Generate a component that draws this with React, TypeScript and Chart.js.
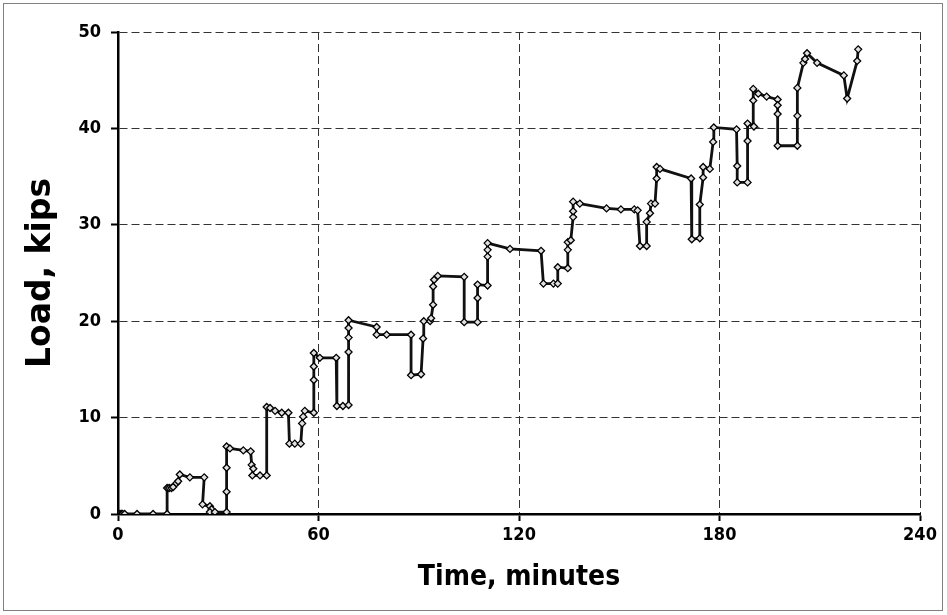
import React, { useEffect, useRef } from "react";
import { Chart, registerables } from "chart.js";

Chart.register(...registerables);

const timeMinutes = [
  0.2, 0.6, 1.0, 1.4, 2.0, 5.7, 10.5, 14.7,
  14.7, 15.3, 16.0, 16.5, 17.5, 18.0, 18.5,
  21.5, 25.8,
  25.3, 27.5, 28.0, 27.5, 29.0, 32.5,
  32.5, 32.5, 32.5,
  33.5, 37.5, 39.7, 40.0, 40.5, 40.2, 42.5, 44.5,
  44.5, 45.5, 47.0, 49.0, 51.0,
  51.3, 52.9, 54.7,
  55.1, 55.4, 55.9, 58.6,
  58.6, 58.6, 58.6,
  60.4, 65.3,
  65.5, 67.3, 69.0,
  69.0, 69.0, 69.0, 69.0,
  77.4, 77.4, 80.4, 87.7,
  87.7, 90.7,
  91.3, 91.5, 93.4, 93.7, 94.3, 94.3, 94.6, 95.7,
  103.6, 103.6, 107.6, 107.6, 107.6, 110.6,
  110.6, 110.6, 110.6, 117.3, 126.6,
  127.3, 130.3, 131.6, 131.6, 134.6,
  134.6, 134.6, 135.5, 136.2, 136.2, 136.2, 138.2,
  146.2, 150.5, 154.5, 155.5,
  156.2, 158.2, 158.2, 159.2, 159.5, 160.7,
  161.2, 161.2, 162.2, 171.5,
  171.7, 174.1, 174.1, 175.1, 175.1, 177.1, 178.1, 178.3,
  185.1, 185.3, 185.3, 188.4, 188.4, 188.4, 190.3,
  190.1, 190.1, 191.6, 194.1, 197.4,
  197.4, 197.4, 197.4, 203.3, 203.3, 203.3,
  205.1, 205.6, 206.2, 209.2, 217.2, 218.2, 221.2, 221.5,
];

const loadKips = [
  0, 0, 0, 0, 0, 0, 0, 0,
  2.7, 2.7, 2.7, 2.8, 3.2, 3.4, 4.1,
  3.8, 3.8,
  1.0, 0.8, 0.5, 0.2, 0.2, 0.2,
  2.3, 4.8, 7.0,
  6.8, 6.6, 6.5, 5.1, 4.7, 4.0, 4.0, 4.0,
  11.1, 11.0, 10.7, 10.5, 10.5,
  7.3, 7.3, 7.3,
  9.4, 10.1, 10.7, 10.5,
  13.9, 15.3, 16.7,
  16.2, 16.2,
  11.2, 11.2, 11.3,
  16.8, 18.3, 19.3, 20.1,
  19.4, 18.6, 18.6, 18.6,
  14.4, 14.5,
  18.2, 20.0, 20.0, 20.3, 21.7, 23.6, 24.3, 24.7,
  24.6, 19.9, 19.9, 22.4, 23.8, 23.7,
  26.7, 27.4, 28.1, 27.5, 27.3,
  23.9, 23.9, 23.9, 25.6, 25.5,
  27.4, 28.2, 28.4, 30.8, 31.4, 32.4, 32.2,
  31.7, 31.6, 31.6, 31.5,
  27.8, 27.8, 30.3, 31.2, 32.2, 32.2,
  34.8, 36.0, 35.8, 34.8,
  28.5, 28.6, 32.1, 34.9, 36.0, 35.8, 38.6, 40.1,
  39.9, 36.1, 34.4, 34.4, 38.7, 40.5, 40.2,
  42.9, 44.1, 43.6, 43.3, 43.0,
  42.4, 41.5, 38.2, 38.2, 41.3, 44.2,
  46.8, 47.2, 47.8, 46.8, 45.5, 43.1, 47.0, 48.2,
];

const xTicks = [0, 60, 120, 180, 240];
const yTicks = [0, 10, 20, 30, 40, 50];
const xTitle = "Time, minutes";
const yTitle = "Load, kips";

const FONT = "'DejaVu Sans', Verdana, sans-serif";
const FONT_COND = "'DejaVu Sans Condensed', 'DejaVu Sans', Verdana, sans-serif";

export default function App() {
  const canvasRef = useRef<HTMLCanvasElement | null>(null);

  useEffect(() => {
    const canvas = canvasRef.current;
    if (!canvas) return;
    const points = timeMinutes.map((t, i) => ({ x: t, y: loadKips[i] }));
    const gridOpts = {
      color: "#333",
      lineWidth: 1,
      drawTicks: true,
      tickLength: 7,
      tickColor: "#000",
      tickWidth: 2,
    };
    const chart = new Chart(canvas, {
      type: "line",
      data: {
        datasets: [
          {
            data: points,
            borderColor: "#111",
            borderWidth: 2.8,
            pointStyle: "rectRot",
            pointRadius: 3.5,
            pointBackgroundColor: "#e0e0e0",
            pointBorderColor: "#000",
            pointBorderWidth: 1.3,
            tension: 0,
            fill: false,
          },
        ],
      },
      options: {
        responsive: false,
        animation: false,
        events: [],
        layout: { padding: { left: 0, right: 27, top: 32, bottom: 0 } },
        plugins: {
          legend: { display: false },
          tooltip: { enabled: false },
          title: { display: false },
        },
        scales: {
          x: {
            type: "linear",
            min: 0,
            max: 240,
            afterBuildTicks: (s: any) => {
              s.ticks = xTicks.map((v) => ({ value: v }));
            },
            afterFit: (s: any) => {
              s.height = 101;
            },
            ticks: {
              color: "#000",
              font: { family: FONT_COND, size: 18, weight: "bold" },
              padding: 4,
              maxRotation: 0,
            },
            grid: gridOpts,
            border: { display: true, color: "#000", width: 2.5, dash: [8, 4] },
            title: {
              display: true,
              text: xTitle,
              color: "#000",
              font: { family: FONT_COND, size: 28, weight: "bold" },
              padding: { top: 0, bottom: 20 },
            },
          },
          y: {
            type: "linear",
            min: 0,
            max: 50,
            afterBuildTicks: (s: any) => {
              s.ticks = yTicks.map((v) => ({ value: v }));
            },
            afterFit: (s: any) => {
              s.width = 118;
            },
            ticks: {
              color: "#000",
              font: { family: FONT_COND, size: 18, weight: "bold" },
              padding: 10,
            },
            grid: gridOpts,
            border: { display: true, color: "#000", width: 2.5, dash: [8, 4] },
            title: {
              display: true,
              text: yTitle,
              color: "#000",
              font: { family: FONT, size: 33, weight: "bold" },
              padding: { top: 22, bottom: 0 },
            },
          },
        },
      },
    });
    return () => chart.destroy();
  }, []);

  return (
    <div
      style={{
        position: "fixed",
        left: 0,
        top: 0,
        width: 947,
        height: 615,
        background: "#fff",
      }}
    >
      <div
        style={{
          position: "absolute",
          left: 3,
          top: 3,
          width: 940,
          height: 608,
          border: "1px solid #808080",
          boxSizing: "border-box",
        }}
      />
      <canvas
        ref={canvasRef}
        width={947}
        height={615}
        style={{ position: "absolute", left: 0, top: 0, width: 947, height: 615 }}
      />
    </div>
  );
}
